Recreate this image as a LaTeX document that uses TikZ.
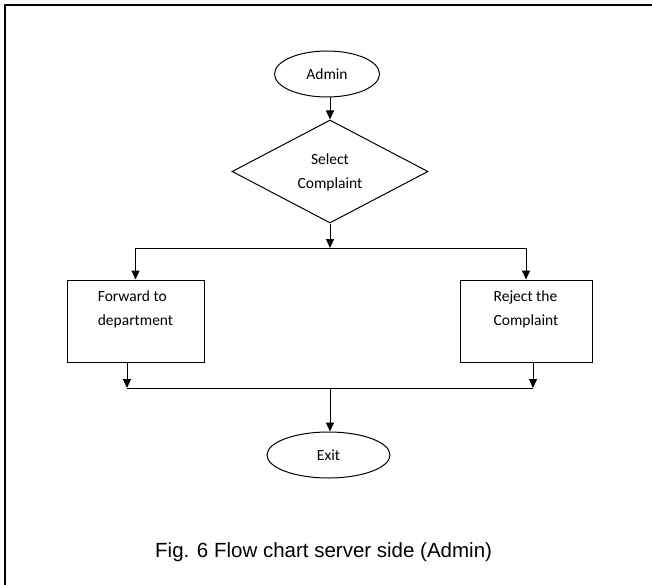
\documentclass[tikz,border=0pt]{standalone}
\usepackage{fontspec}
\setmainfont{Carlito}
\newfontfamily\capfont{Liberation Sans}
\usetikzlibrary{shapes.geometric,arrows.meta}

\tikzset{
  flow/.style={line width=1pt, -{Triangle[width=8pt,length=9pt]}},
  wire/.style={line width=1pt},
  chartfont/.style={font=\fontsize{15.5}{24}\selectfont},
  terminal/.style={draw, ellipse, line width=1pt, inner sep=0pt, chartfont},
  decision/.style={draw, diamond, line width=1pt, inner sep=0pt, align=center,
    minimum width=196pt, minimum height=103pt, text depth=0pt, chartfont},
  process/.style={draw, rectangle, line width=1pt, align=left, minimum height=82pt,
    text depth=25pt, chartfont}
}

\begin{document}
\begin{tikzpicture}[x=1pt, y=-1pt]
    \useasboundingbox (0,0) rectangle (652,585);
    % page frame (only top and left edges show)
    \draw[line width=1.8pt] (5,585) -- (5,5) -- (652,5);
    % flow chart nodes
    \node[terminal, minimum width=105pt, minimum height=46pt] (admin) at (327,74) {Admin};
    \node[decision] (select) at (330,171.5) {Select\\Complaint};
    \node[process, minimum width=137pt] (forward) at (135.5,321) {Forward to\\department};
    \node[process, minimum width=132pt] (reject) at (526,321) {Reject the\\Complaint};
    \node[terminal, minimum width=123pt, minimum height=46pt] (exit) at (328.5,455) {Exit};
    % branch and merge points
    \coordinate (split) at (330,248);
    \coordinate (splitL) at (135.5,248);
    \coordinate (splitR) at (526,248);
    \coordinate (join) at (330,388);
    \coordinate (joinL) at (127,388);
    \coordinate (joinR) at (533,388);
    % connectors
    \draw[flow] (admin.south -| select.north) -- (select.north);
    \draw[flow] (select.south) -- (split);
    \draw[wire] (splitL) -- (splitR);
    \draw[flow] (splitL) -- (forward.north);
    \draw[flow] (splitR) -- (reject.north);
    \draw[flow] (forward.south -| joinL) -- (joinL);
    \draw[flow] (reject.south -| joinR) -- (joinR);
    \draw[wire] (joinL) -- (joinR);
    \draw[flow] (join) -- (exit.north -| join);
    % caption
    \node[anchor=west, inner sep=0pt, font=\capfont\fontsize{20.5}{24}\selectfont] (caption) at (155,552)
        {Fig. 6 Flow chart server side (Admin)};
\end{tikzpicture}
\end{document}
